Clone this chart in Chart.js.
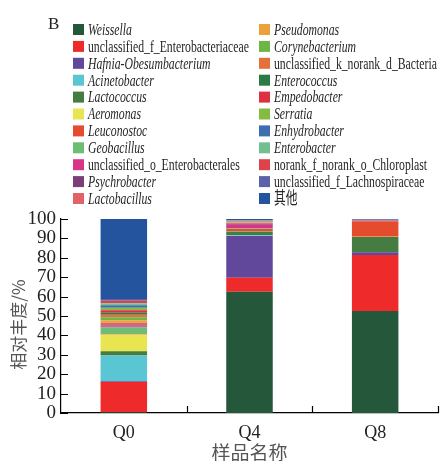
<!DOCTYPE html>
<html>
<head>
<meta charset="utf-8">
<script src="https://cdn.jsdelivr.net/npm/chart.js@4/dist/chart.umd.min.js"></script>
<style>
  html, body { margin: 0; padding: 0; background: #fff; }
  #wrap { width: 441px; height: 461px; position: relative; }
</style>
</head>
<body>
<div id="wrap"><canvas id="c" width="441" height="461"></canvas></div>
<script>
// ---- data ----
const categories = ['Q0', 'Q4', 'Q8'];
const taxa = [
  'Weissella', 'unclassified_f_Enterobacteriaceae', 'Hafnia-Obesumbacterium', 'Acinetobacter',
  'Lactococcus', 'Aeromonas', 'Leuconostoc', 'Geobacillus', 'unclassified_o_Enterobacterales',
  'Psychrobacter', 'Lactobacillus', 'Pseudomonas', 'Corynebacterium', 'unclassified_k_norank_d_Bacteria',
  'Enterococcus', 'Empedobacter', 'Serratia', 'Enhydrobacter', 'Enterobacter',
  'norank_f_norank_o_Chloroplast', 'unclassified_f_Lachnospiraceae', '其他'
];
const q0 = [0.4, 15.6, 0.4, 13.3, 2.1, 8.6, 0.3, 3.4, 0.5, 0.5, 1.4, 1.3, 1.6, 1.3, 1.0, 1.3, 1.3, 1.3, 1.0, 1.3, 0.9, 41.2];
const q4 = [62.5, 7.2, 21.6, 0.3, 2.0, 0.1, 1.2, 0.2, 2.0, 0.4, 0.6, 0.1, 0.1, 0.1, 0.1, 0.1, 0.1, 0.2, 0.2, 0.1, 0.3, 0.5];
const q8 = [52.6, 28.8, 1.4, 0.1, 7.8, 0.1, 8.1, 0.1, 0.1, 0.1, 0.1, 0, 0, 0, 0.1, 0, 0, 0.1, 0, 0, 0.25, 0.25];
const yTicks = [0, 10, 20, 30, 40, 50, 60, 70, 80, 90, 100];

// ---- styles ----
const colors = [
  '#25573a', '#ee2a2b', '#62489a', '#5bc6d3', '#447c42', '#e8e550', '#e54b2d', '#6fbd74',
  '#d93586', '#7a3f7b', '#e06366', '#eba23a', '#6db544', '#e6703a', '#2e7a44', '#df3041',
  '#85bb42', '#3d6eae', '#72c08f', '#df4249', '#5c61a8', '#25549e'
];

const datasets = taxa.map((name, i) => ({
  label: name,
  data: [q0[i], q4[i], q8[i]],
  backgroundColor: colors[i],
  borderWidth: 0,
  barPercentage: 0.37,
  categoryPercentage: 1.0
}));

function isItalic(name) {
  return !(name.startsWith('unclassified') || name.startsWith('norank') || name === '其他');
}

const legendPlugin = {
  id: 'twoColLegend',
  afterDraw(chart) {
    const ctx = chart.ctx;
    ctx.save();
    ctx.fillStyle = '#222';
    ctx.font = "17px 'Liberation Serif'";
    ctx.textBaseline = 'alphabetic';
    ctx.fillText('B', 48, 29);
    chart.data.datasets.forEach((ds, i) => {
      const col = i < 11 ? 0 : 1;
      const row = i % 11;
      const sx = col === 0 ? 73 : 259;
      const cy = 29.3 + row * 16.9;
      ctx.fillStyle = ds.backgroundColor;
      ctx.fillRect(sx, cy - 5.3, 11, 11);
      ctx.save();
      ctx.translate(sx + 15, cy + 5.5);
      ctx.scale(0.69, 1);
      ctx.fillStyle = '#262626';
      ctx.font = (isItalic(ds.label) ? 'italic ' : '') + "17px 'Liberation Serif', 'Noto Sans CJK SC'";
      ctx.fillText(ds.label, 0, 0);
      ctx.restore();
    });
    ctx.restore();
  }
};

const inwardTicks = {
  id: 'inwardTicks',
  afterDraw(chart) {
    const ctx = chart.ctx;
    const x = chart.scales.x, y = chart.scales.y;
    const area = chart.chartArea;
    ctx.save();
    ctx.strokeStyle = '#000';
    ctx.lineWidth = 1.2;
    ctx.beginPath();
    y.ticks.forEach(t => {
      const py = Math.round(y.getPixelForValue(t.value)) + 0.5;
      ctx.moveTo(area.left, py);
      ctx.lineTo(area.left + 7, py);
    });
    for (let i = 0; i < categories.length; i++) {
      const px = Math.round(x.getPixelForValue(i + 0.5)) + 0.5;
      ctx.moveTo(px, area.bottom);
      ctx.lineTo(px, area.bottom - 7);
    }
    ctx.stroke();
    ctx.restore();
  }
};

new Chart(document.getElementById('c'), {
  type: 'bar',
  data: { labels: categories, datasets },
  options: {
    responsive: false,
    animation: false,
    devicePixelRatio: 1,
    layout: { padding: { top: 219, right: 3, left: 0, bottom: 0 } },
    plugins: {
      legend: { display: false },
      tooltip: { enabled: false },
      title: { display: false }
    },
    scales: {
      x: {
        stacked: true,
        grid: { display: false, drawTicks: false },
        border: { display: true, color: '#000', width: 1.2 },
        ticks: {
          color: '#222',
          padding: 9,
          font: { family: "'Liberation Serif'", size: 18 }
        },
        title: {
          display: true,
          text: '样品名称',
          color: '#555',
          padding: { top: 0, bottom: -1 },
          font: { family: "'Noto Sans CJK SC'", size: 19, lineHeight: 1 }
        },
        afterFit(scale) { scale.height = 48; }
      },
      y: {
        stacked: true,
        min: 0,
        max: 100,
        grid: { display: false, drawTicks: false },
        border: { display: true, color: '#000', width: 1.2 },
        afterBuildTicks(scale) { scale.ticks = yTicks.map(v => ({ value: v })); },
        ticks: {
          color: '#222',
          padding: 5,
          autoSkip: false,
          font: { family: "'Liberation Serif'", size: 19 }
        },
        title: {
          display: true,
          text: '相对丰度/%\u3000',
          color: '#555',
          padding: { top: 10, bottom: 0 },
          font: { family: "'Noto Sans CJK SC'", size: 17, lineHeight: 1 }
        },
        afterFit(scale) { scale.width = 61; }
      }
    }
  },
  plugins: [legendPlugin, inwardTicks]
});
</script>
</body>
</html>
